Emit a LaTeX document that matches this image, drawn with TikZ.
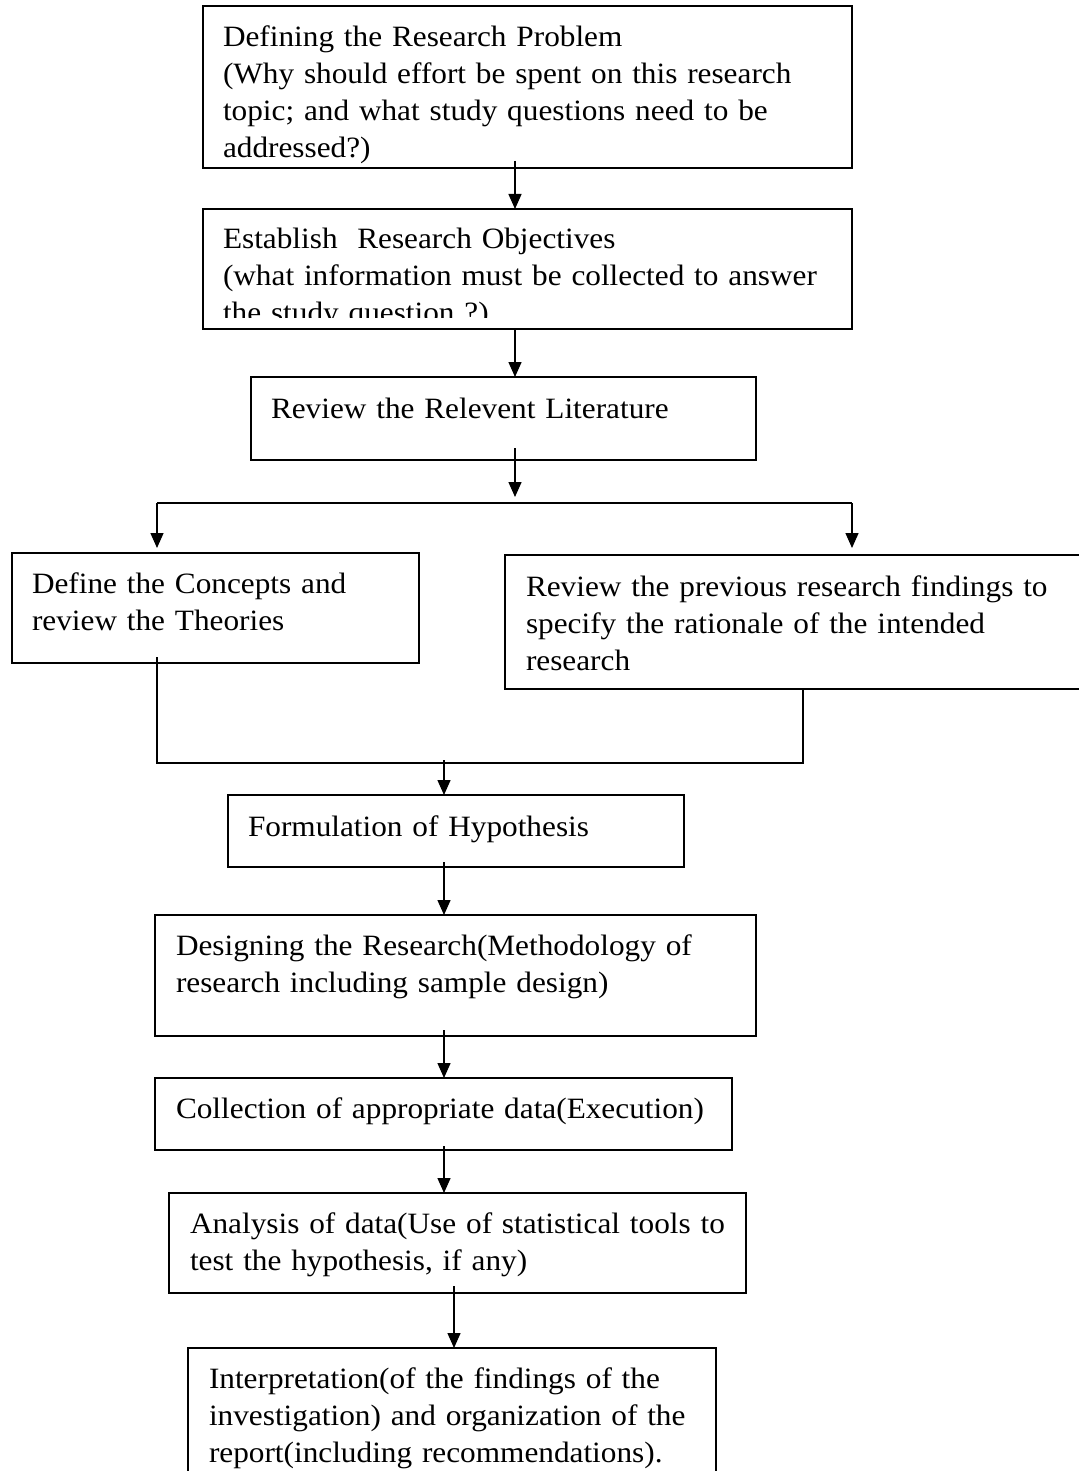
\documentclass[tikz,border=0pt]{standalone}
\usepackage{fontspec}
\setmainfont{Liberation Serif}[FakeStretch=1.06]
\usetikzlibrary{arrows.meta, positioning}

\tikzset{
  stage/.style={draw, line width=1.8pt, anchor=north west, align=left,
                inner ysep=0pt, outer sep=0pt,
                font=\fontsize{29.5}{37}\selectfont,
                execute at begin node={\rightskip=0pt plus 1fil minus 60pt}},
  flow/.style={line width=1.4pt, -{Triangle[length=15pt, width=13pt]}},
  link/.style={line width=1.4pt}
}

\begin{document}
\begin{tikzpicture}[x=1pt, y=-1pt]
    \useasboundingbox (0,0) rectangle (1078,1471);

    % stages of the process
    \node[stage, inner xsep=20pt, text width=609pt, text height=41pt, text depth=121pt] (prob) at (203,6)
        {Defining the Research Problem\\(Why should effort be spent on this research\\topic; and what study questions need to be\\addressed?)};
    \node[stage, inner xsep=20pt, text width=609pt, text height=39pt, text depth=81pt] (objt) at (203,209)
        {Establish~ Research Objectives\\(what information must be collected to answer\\the study question ?)};
    % last line is cut off by the box
    \fill[white] ([xshift=1pt, yshift=1pt]objt.south west) rectangle ([xshift=-1pt, yshift=11pt]objt.south east);
    \node[stage, inner xsep=20pt, text width=465pt, text height=41pt, text depth=42pt] (revw) at (251,377)
        {Review the Relevent Literature};
    \node[stage, inner xsep=20pt, text width=367pt, text height=40pt, text depth=70pt] (dfn) at (12,553)
        {Define the Concepts and\\review the Theories};
    \node[stage, inner xsep=21pt, text width=563pt, text height=41pt, text depth=93pt] (prev) at (505,555)
        {Review the previous research findings to\\specify the rationale of the intended\\research};
    \node[stage, inner xsep=20pt, text width=416pt, text height=41pt, text depth=31pt] (hypo) at (228,795)
        {Formulation of Hypothesis};
    \node[stage, inner xsep=21pt, text width=559pt, text height=40pt, text depth=81pt] (dsgn) at (155,915)
        {Designing the Research(Methodology of\\research including sample design)};
    \node[stage, inner xsep=21pt, text width=535pt, text height=40pt, text depth=32pt] (coll) at (155,1078)
        {Collection of appropriate data(Execution)};
    \node[stage, inner xsep=21pt, text width=535pt, text height=40pt, text depth=60pt] (anls) at (169,1193)
        {Analysis of data(Use of statistical tools to\\test the hypothesis, if any)};
    \node[stage, inner xsep=21pt, text width=486pt, text height=40pt, text depth=132pt] (intp) at (188,1348)
        {Interpretation(of the findings of the\\investigation) and organization of the\\report(including recommendations).};

    % axes and junctions
    \coordinate (axisA) at (515,0);
    \coordinate (axisB) at (444,0);
    \coordinate (axisC) at (454,0);
    \coordinate (split) at (515,503);
    \coordinate (splitL) at (157,503);
    \coordinate (splitR) at (852,503);
    \coordinate (mergeL) at (157,763);
    \coordinate (mergeR) at (803,763);

    \draw[flow] ([yshift=7pt]axisA |- prob.south) -- (axisA |- objt.north);
    \draw[flow] (axisA |- objt.south) -- (axisA |- revw.north);
    \draw[flow] ([yshift=12pt]axisA |- revw.south) -- ([yshift=6pt]split);

    % branch out
    \draw[link] (splitL) -- (splitR);
    \draw[flow] (splitL) -- ([yshift=5pt]splitL |- dfn.north);
    \draw[flow] (splitR) -- ([yshift=7pt]splitR |- prev.north);

    % join again
    \draw[link] ([yshift=6pt]mergeL |- dfn.south) -- (mergeL) -- (mergeR) -- (mergeR |- prev.south);
    \draw[flow] ([yshift=3pt]axisB |- mergeL) -- (axisB |- hypo.north);

    \draw[flow] ([yshift=5pt]axisB |- hypo.south) -- (axisB |- dsgn.north);
    \draw[flow] ([yshift=6pt]axisB |- dsgn.south) -- (axisB |- coll.north);
    \draw[flow] ([yshift=4pt]axisB |- coll.south) -- (axisB |- anls.north);
    \draw[flow] ([yshift=7pt]axisC |- anls.south) -- (axisC |- intp.north);
\end{tikzpicture}
\end{document}
